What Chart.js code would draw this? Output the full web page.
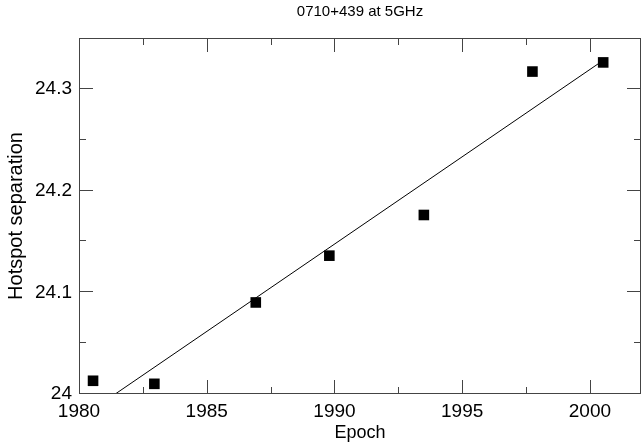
<!DOCTYPE html>
<html>
<head>
<meta charset="utf-8">
<script src="https://cdn.jsdelivr.net/npm/chart.js@4.4.0/dist/chart.umd.min.js"></script>
<style>
  body { margin: 0; background: #fff; }
  #wrap { width: 642px; height: 444px; position: relative; }
</style>
</head>
<body>
<div id="wrap"><canvas id="chart"></canvas></div>
<script>
const chartTitle = '0710+439 at 5GHz';
const xTitle = 'Epoch';
const yTitle = 'Hotspot separation';

// measured separations
const epochs = [1980.55, 1982.95, 1986.92, 1989.8, 1993.5, 1997.75, 2000.52];
const separations = [24.013, 24.010, 24.090, 24.136, 24.176, 24.317, 24.326];

// linear fit drawn as a line
const fitEpochs = [1981.42, 2000.52];
const fitValues = [24.0, 24.328];

const xMin = 1980, xMax = 2002;
const yMin = 24, yMax = 24.35;
const xTickValues = [1980, 1985, 1990, 1995, 2000];
const xMinorValues = [1982.5, 1987.5, 1992.5, 1997.5];
const yTickValues = [24, 24.1, 24.2, 24.3];
const yMinorValues = [24.05, 24.15, 24.25];

// IDL style frame with inward ticks on all four sides
const framePlugin = {
    id: 'frame',
    afterDraw: function(chart) {
        const ctx = chart.ctx;
        const a = chart.chartArea;
        const xs = chart.scales.x;
        const ys = chart.scales.y;
        ctx.save();
        ctx.strokeStyle = '#444';
        ctx.lineWidth = 1;
        ctx.strokeRect(a.left + 0.5, a.top + 0.5, a.right - a.left - 1, a.bottom - a.top - 1);
        ctx.beginPath();
        const xMarks = xTickValues.map(v => [v, 14]).concat(xMinorValues.map(v => [v, 7]));
        xMarks.forEach(([v, len]) => {
            const px = Math.round(xs.getPixelForValue(v)) + 0.5;
            ctx.moveTo(px, a.bottom);
            ctx.lineTo(px, a.bottom - len);
            ctx.moveTo(px, a.top);
            ctx.lineTo(px, a.top + len);
        });
        const yMarks = yTickValues.map(v => [v, 14]).concat(yMinorValues.map(v => [v, 7]));
        yMarks.forEach(([v, len]) => {
            const py = Math.round(ys.getPixelForValue(v)) - 0.5;
            ctx.moveTo(a.left, py);
            ctx.lineTo(a.left + len, py);
            ctx.moveTo(a.right, py);
            ctx.lineTo(a.right - len, py);
        });
        ctx.stroke();
        ctx.restore();
    }
};

function setTicks(values) {
    return function(scale) {
        scale.ticks = values.map(v => ({ value: v }));
    };
}

function fixSize(prop, size) {
    return function(scale) {
        scale[prop] = size;
        scale.paddingLeft = 0;
        scale.paddingRight = 0;
        scale.paddingTop = 0;
        scale.paddingBottom = 0;
    };
}

const ctx = document.getElementById('chart').getContext('2d');
new Chart(ctx, {
    type: 'scatter',
    data: {
        datasets: [{
            label: 'data',
            data: epochs.map((e, i) => ({ x: e, y: separations[i] })),
            pointStyle: 'rect',
            pointRadius: 7.5,
            pointHoverRadius: 7.5,
            backgroundColor: '#000',
            borderColor: '#000',
            borderWidth: 0
        }, {
            label: 'fit',
            data: fitEpochs.map((e, i) => ({ x: e, y: fitValues[i] })),
            showLine: true,
            pointRadius: 0,
            borderColor: '#000',
            borderWidth: 1,
            fill: false
        }]
    },
    options: {
        responsive: true,
        maintainAspectRatio: false,
        animation: false,
        layout: { autoPadding: false, padding: { left: 0, right: 1, top: 0, bottom: 0 } },
        scales: {
            x: {
                type: 'linear',
                position: 'bottom',
                min: xMin,
                max: xMax,
                ticks: {
                    padding: 6,
                    maxRotation: 0,
                    color: '#000',
                    font: { size: 19, family: 'Liberation Sans' },
                    callback: v => String(v)
                },
                afterBuildTicks: setTicks(xTickValues),
                afterFit: fixSize('height', 50),
                grid: { display: false, drawTicks: false },
                border: { display: false },
                title: {
                    display: true,
                    text: xTitle,
                    color: '#000',
                    font: { size: 18, family: 'Liberation Sans' },
                    padding: { top: 0, bottom: 0 }
                }
            },
            x2: {
                type: 'linear',
                position: 'top',
                min: xMin,
                max: xMax,
                ticks: { display: false },
                afterFit: fixSize('height', 38),
                grid: { display: false, drawTicks: false },
                border: { display: false },
                title: {
                    display: true,
                    text: chartTitle,
                    color: '#000',
                    font: { size: 15, family: 'Liberation Sans' },
                    padding: { top: 3, bottom: 0 }
                }
            },
            y: {
                type: 'linear',
                min: yMin,
                max: yMax,
                ticks: {
                    padding: 7,
                    color: '#000',
                    font: { size: 19, family: 'Liberation Sans' },
                    callback: v => String(+v.toFixed(1))
                },
                afterBuildTicks: setTicks(yTickValues),
                afterFit: fixSize('width', 79),
                grid: { display: false, drawTicks: false },
                border: { display: false },
                title: {
                    display: true,
                    text: yTitle,
                    color: '#000',
                    font: { size: 20, family: 'Liberation Sans' },
                    padding: { top: 4, bottom: 0 }
                }
            }
        },
        plugins: {
            legend: { display: false },
            title: { display: false },
            tooltip: { enabled: false }
        }
    },
    plugins: [framePlugin]
});
</script>
</body>
</html>
